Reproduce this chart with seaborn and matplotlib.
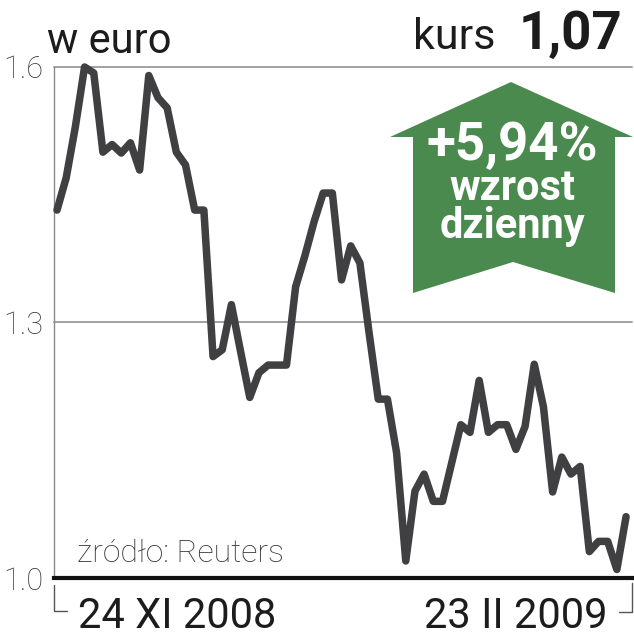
import numpy as np
import pandas as pd
import matplotlib
matplotlib.use("Agg")
import matplotlib.pyplot as plt
import seaborn as sns
from matplotlib.patches import Polygon
from matplotlib.lines import Line2D

# ---- data (EUR rate, daily, 24 XI 2008 .. 23 II 2009) ----
eur_values = [
    1.432, 1.470, 1.530, 1.600, 1.593, 1.500, 1.509, 1.499, 1.511, 1.479,
    1.590, 1.564, 1.552, 1.500, 1.485, 1.432, 1.432, 1.260, 1.268, 1.321,
    1.266, 1.212, 1.241, 1.250, 1.250, 1.250, 1.342, 1.378, 1.418, 1.452,
    1.452, 1.350, 1.390, 1.370, 1.288, 1.210, 1.210, 1.147, 1.020, 1.102,
    1.122, 1.090, 1.090, 1.135, 1.180, 1.171, 1.232, 1.171, 1.180, 1.180,
    1.151, 1.178, 1.251, 1.201, 1.101, 1.142, 1.122, 1.131, 1.031, 1.043,
    1.043, 1.010, 1.072,
]
day_index = list(range(len(eur_values)))
y_ticks = [1.0, 1.3, 1.6]
y_tick_labels = ["1.0", "1.3", "1.6"]
start_label = "24 XI 2008"
end_label = "23 II 2009"
unit_label = "w euro"
rate_label = "kurs"
rate_value = "1,07"
change_lines = ["+5,94%", "wzrost", "dzienny"]
source_label = "źródło: Reuters"

sns.set_theme(style="white")
plt.rcParams["font.family"] = ["Roboto", "DejaVu Sans"]

W, H = 634, 640
fig = plt.figure(figsize=(W / 100, H / 100), dpi=100)
fig.patch.set_facecolor("white")

ax_l, ax_r, ax_t, ax_b = 54, 632, 67, 578
ax = fig.add_axes([ax_l / W, 1 - ax_b / H, (ax_r - ax_l) / W, (ax_b - ax_t) / H])
ax.set_facecolor("white")

df = pd.DataFrame({"day": day_index, "eur": eur_values})

# grid lines
for yv in (1.3, 1.6):
    ax.axhline(yv, color="#9a9a9a", lw=1.3, zorder=1, clip_on=False)

sns.lineplot(data=df, x="day", y="eur", ax=ax, color="#404042", linewidth=5.4,
             solid_joinstyle="round", solid_capstyle="round", zorder=3)
for ln in ax.lines:
    ln.set_clip_on(False)

ax.set_xlim(-0.33, 62.65)
ax.set_ylim(1.0, 1.6)
ax.set_xticks([])
ax.set_yticks(y_ticks)
ax.set_yticklabels(y_tick_labels)
ax.tick_params(axis="y", length=0, pad=8, labelsize=22, labelcolor="#3a3a3a")
for t in ax.get_yticklabels():
    t.set_fontweight("light")
ax.set_xlabel("")
ax.set_ylabel("")

for s in ("top", "right"):
    ax.spines[s].set_visible(False)
ax.spines["left"].set_color("#8a8a8a")
ax.spines["left"].set_linewidth(1.0)
ax.spines["bottom"].set_color("#111111")
ax.spines["bottom"].set_linewidth(3.0)
ax.spines["bottom"].set_zorder(4)

axw, axh = ax_r - ax_l, ax_b - ax_t
def ax_xy(px, py):
    return (px - ax_l) / axw, (ax_b - py) / axh

# brackets under the axis
bc = "#555555"
for pts in ([(54, 585), (54, 611), (67, 611)], [(632, 583), (632, 612), (619, 612)]):
    xs, ys = zip(*[ax_xy(*p) for p in pts])
    ax.add_line(Line2D(xs, ys, transform=ax.transAxes, color=bc, lw=1.0, clip_on=False))

x0, y0 = ax_xy(78, 628)
ax.text(x0, y0, start_label, transform=ax.transAxes, ha="left", va="baseline",
        fontsize=30, color="#1c1c1c")
x1, y1 = ax_xy(608, 628)
ax.text(x1, y1, end_label, transform=ax.transAxes, ha="right", va="baseline",
        fontsize=30, color="#1c1c1c")

xs_, ys_ = ax_xy(77, 562)
ax.text(xs_, ys_, source_label, transform=ax.transAxes, ha="left", va="baseline",
        fontsize=23, fontweight="light", color="#333333")

# header texts
fig.text(47 / W, 1 - 53 / H, unit_label, ha="left", va="baseline", fontsize=30,
         color="#1c1c1c")
fig.text(622 / W, 1 - 49 / H, rate_value, ha="right", va="baseline", fontsize=38,
         fontweight="bold", color="#1c1c1c")
fig.text(495 / W, 1 - 49 / H, rate_label, ha="right", va="baseline", fontsize=31,
         color="#1c1c1c")

# green arrow badge
arrow_px = [(413, 293), (413, 137), (390, 137), (511, 82), (633, 137),
            (615, 137), (615, 293), (513, 262)]
arrow = Polygon([(x / W, 1 - y / H) for x, y in arrow_px], closed=True,
                transform=fig.transFigure, facecolor="#4b8a4e", edgecolor="none",
                zorder=5)
fig.patches.append(arrow)
for txt, base, fs in zip(change_lines, (160, 200, 238), (38, 30, 30)):
    fig.text(512 / W, 1 - base / H, txt, ha="center", va="baseline", fontsize=fs,
             fontweight="bold", color="white", zorder=6)

fig.savefig("out.png", dpi=100, facecolor="white")
